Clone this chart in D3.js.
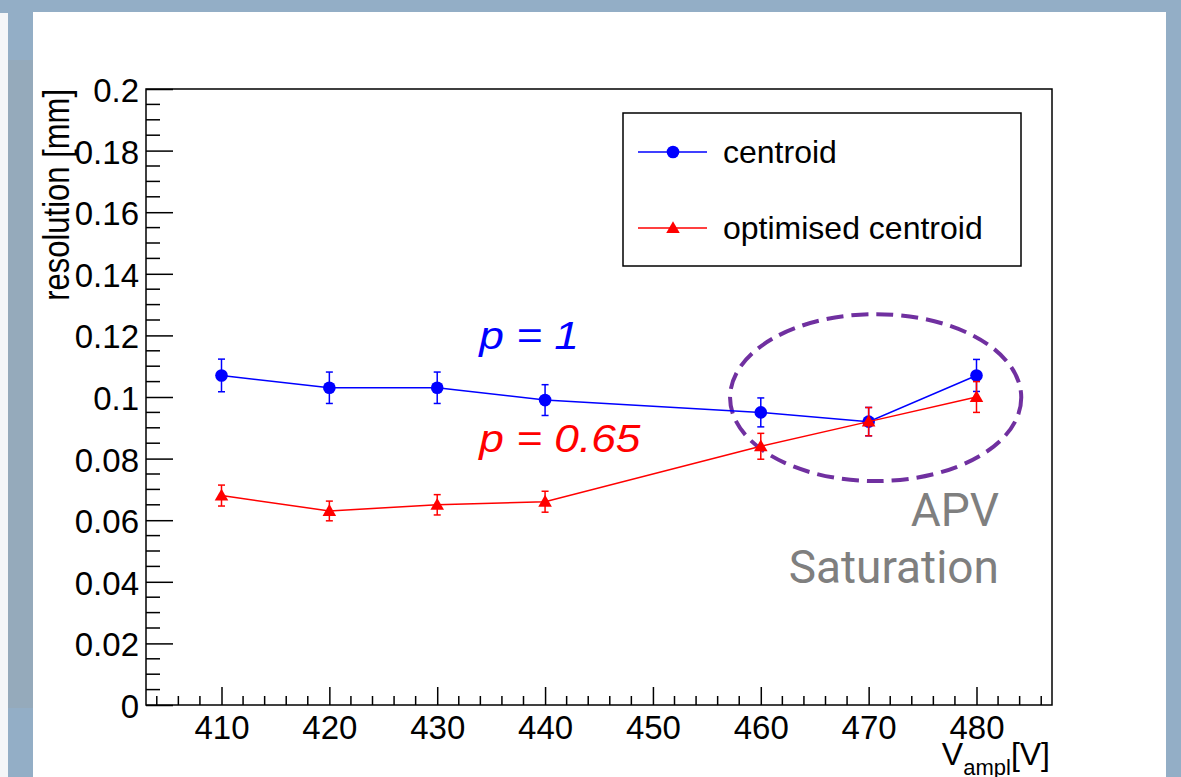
<!DOCTYPE html>
<html>
<head>
<meta charset="utf-8">
<script src="https://cdn.jsdelivr.net/npm/d3@7"></script>
<style>
  body { margin: 0; padding: 0; background: #93aec6; }
  svg { display: block; }
</style>
</head>
<body>
<div id="chart"></div>
<script>
// values
const voltages = [410, 420, 430, 440, 460, 470, 480];
const centroid = [0.107, 0.103, 0.103, 0.099, 0.095, 0.092, 0.107];
const centroidErr = [0.0053, 0.0051, 0.0051, 0.005, 0.0047, 0.0046, 0.0052];
const optimised = [0.068, 0.063, 0.065, 0.066, 0.084, 0.092, 0.100];
const optimisedErr = [0.0034, 0.0032, 0.0033, 0.0034, 0.0042, 0.0046, 0.005];

const xTicks = [410, 420, 430, 440, 450, 460, 470, 480];
const yTicks = [0, 0.02, 0.04, 0.06, 0.08, 0.1, 0.12, 0.14, 0.16, 0.18, 0.2];
const yTickLabels = ["0", "0.02", "0.04", "0.06", "0.08", "0.1", "0.12", "0.14", "0.16", "0.18", "0.2"];

const W = 1181, H = 777;
const frame = { left: 146, right: 1052, top: 89, bottom: 705 };

const svg = d3.select("#chart")
    .append("svg")
    .attr("width", W)
    .attr("height", H);

// slide background and white panel
svg.append("rect").attr("width", W).attr("height", H).attr("fill", "#93aec6");
svg.append("rect").attr("x", 0).attr("y", 13).attr("width", 8).attr("height", H - 13).attr("fill", "#f4f6f8");
svg.append("rect").attr("x", 8).attr("y", 60).attr("width", 25).attr("height", 648).attr("fill", "#95aabb");
svg.append("rect").attr("x", 33).attr("y", 12).attr("width", 1133).attr("height", H - 12).attr("fill", "#ffffff");

const x = d3.scaleLinear().domain([403, 487]).range([frame.left, frame.right]);
const y = d3.scaleLinear().domain([0, 0.2]).range([frame.bottom, frame.top]);

const font = "'Liberation Sans', Arial, Helvetica, sans-serif";

// frame
svg.append("rect")
    .attr("x", frame.left)
    .attr("y", frame.top)
    .attr("width", frame.right - frame.left)
    .attr("height", frame.bottom - frame.top)
    .attr("fill", "none")
    .attr("stroke", "#000")
    .attr("stroke-width", 1.5);

// x axis: major ticks with labels, minor ticks every 2
const xAxis = d3.axisBottom(x)
    .tickValues(xTicks)
    .tickSize(-18)
    .tickPadding(11)
    .tickFormat(d3.format("d"));
const xMinor = d3.range(404, 487, 2).filter(v => v % 10 !== 0);

const gx = svg.append("g").attr("transform", `translate(0,${frame.bottom})`).call(xAxis);
gx.select(".domain").remove();
gx.selectAll(".tick line").attr("stroke", "#000").attr("stroke-width", 1.5);
gx.selectAll(".tick text").attr("font-family", font).attr("font-size", 33).attr("fill", "#000");
gx.selectAll(".minor").data(xMinor).enter().append("line")
    .attr("class", "minor")
    .attr("x1", d => x(d)).attr("x2", d => x(d))
    .attr("y1", 0).attr("y2", -9)
    .attr("stroke", "#000").attr("stroke-width", 1.5);

// y axis
const yAxis = d3.axisLeft(y)
    .tickValues(yTicks)
    .tickSize(-27)
    .tickPadding(7)
    .tickFormat((d, i) => yTickLabels[i]);
const yMinor = d3.range(0, 41).map(i => i * 0.005).filter((v, i) => i % 4 !== 0);

const gy = svg.append("g").attr("transform", `translate(${frame.left},0)`).call(yAxis);
gy.select(".domain").remove();
gy.selectAll(".tick line").attr("stroke", "#000").attr("stroke-width", 1.5);
gy.selectAll(".tick text")
    .attr("font-family", font).attr("font-size", 33).attr("fill", "#000")
    .attr("x", -7).attr("dy", "0.38em");
gy.selectAll(".minor").data(yMinor).enter().append("line")
    .attr("class", "minor")
    .attr("x1", 0).attr("x2", 14)
    .attr("y1", d => y(d)).attr("y2", d => y(d))
    .attr("stroke", "#000").attr("stroke-width", 1.5);

// axis titles
svg.append("text")
    .attr("transform", `translate(69,${frame.top}) rotate(-90) scale(1,1.2)`)
    .attr("text-anchor", "end")
    .attr("font-family", font)
    .attr("font-size", 31)
    .text("resolution [mm]");

const xt = svg.append("text")
    .attr("x", frame.right - 2)
    .attr("y", 765)
    .attr("text-anchor", "end")
    .attr("font-family", font)
    .attr("font-size", 32);
xt.append("tspan").text("V");
xt.append("tspan").attr("dy", 10).attr("font-size", 22).text("ampl");
xt.append("tspan").attr("dy", -10).text("[V]");

// saturation ellipse
const ell = { cx: 470.65, cy: 0.0998, rx: 13.5, ry: 0.0271 };
svg.append("ellipse")
    .attr("cx", x(ell.cx))
    .attr("cy", y(ell.cy))
    .attr("rx", x(ell.cx + ell.rx) - x(ell.cx))
    .attr("ry", y(ell.cy - ell.ry) - y(ell.cy))
    .attr("fill", "none")
    .attr("stroke", "#7030a0")
    .attr("stroke-width", 4)
    .attr("stroke-dasharray", "17 8");

// series
const series = [
    { name: "centroid", values: centroid, errs: centroidErr, color: "#0000ff", marker: d3.symbolCircle, size: 125 },
    { name: "optimised centroid", values: optimised, errs: optimisedErr, color: "#ff0000", marker: d3.symbolTriangle, size: 80 }
];

const line = d3.line().x(d => x(d.v)).y(d => y(d.r));

series.forEach(s => {
    const pts = voltages.map((v, i) => ({ v: v, r: s.values[i], e: s.errs[i] }));
    const g = svg.append("g");

    g.append("path")
        .datum(pts)
        .attr("d", line)
        .attr("fill", "none")
        .attr("stroke", s.color)
        .attr("stroke-width", 1.5);

    const eb = g.selectAll(".err").data(pts).enter().append("g").attr("class", "err");
    eb.append("line")
        .attr("x1", d => x(d.v)).attr("x2", d => x(d.v))
        .attr("y1", d => y(d.r - d.e)).attr("y2", d => y(d.r + d.e))
        .attr("stroke", s.color).attr("stroke-width", 1.5);
    [-1, 1].forEach(sign => {
        eb.append("line")
            .attr("x1", d => x(d.v) - 3.5).attr("x2", d => x(d.v) + 3.5)
            .attr("y1", d => y(d.r + sign * d.e)).attr("y2", d => y(d.r + sign * d.e))
            .attr("stroke", s.color).attr("stroke-width", 1.5);
    });

    g.selectAll(".mk").data(pts).enter().append("path")
        .attr("class", "mk")
        .attr("transform", d => `translate(${x(d.v)},${y(d.r) + (s.marker === d3.symbolTriangle ? 1 : 0)})`)
        .attr("d", d3.symbol().type(s.marker).size(s.size))
        .attr("fill", s.color);
});

// legend
const leg = svg.append("g").attr("transform", "translate(623,113)");
leg.append("rect")
    .attr("width", 398).attr("height", 153)
    .attr("fill", "#fff").attr("stroke", "#000").attr("stroke-width", 1.5);
series.forEach((s, i) => {
    const ly = 39 + i * 76;
    leg.append("line")
        .attr("x1", 15).attr("x2", 84).attr("y1", ly).attr("y2", ly)
        .attr("stroke", s.color).attr("stroke-width", 1.5);
    leg.append("path")
        .attr("transform", `translate(50,${ly + (s.marker === d3.symbolTriangle ? 1 : 0)})`)
        .attr("d", d3.symbol().type(s.marker).size(s.size))
        .attr("fill", s.color);
    leg.append("text")
        .attr("x", 100).attr("y", ly + 11)
        .attr("font-family", font).attr("font-size", 32)
        .text(s.name);
});

// annotations
const notes = [
    { text: "p = 1", v: 433.9, r: 0.1156, color: "#0000ff" },
    { text: "p = 0.65", v: 433.9, r: 0.0822, color: "#ff0000" }
];
notes.forEach(n => {
    svg.append("text")
        .attr("transform", `translate(${x(n.v)},${y(n.r)}) scale(1.15,1)`)
        .attr("font-family", font)
        .attr("font-style", "italic")
        .attr("font-size", 38.5)
        .attr("fill", n.color)
        .text(n.text);
});

const satLines = ["APV", "Saturation"];
satLines.forEach((t, i) => {
    svg.append("text")
        .attr("x", 999)
        .attr("y", 526 + i * 57)
        .attr("text-anchor", "end")
        .attr("font-family", "Roboto, 'Open Sans', sans-serif")
        .attr("font-size", 46)
        .attr("fill", "#7f7f7f")
        .text(t);
});
</script>
</body>
</html>
